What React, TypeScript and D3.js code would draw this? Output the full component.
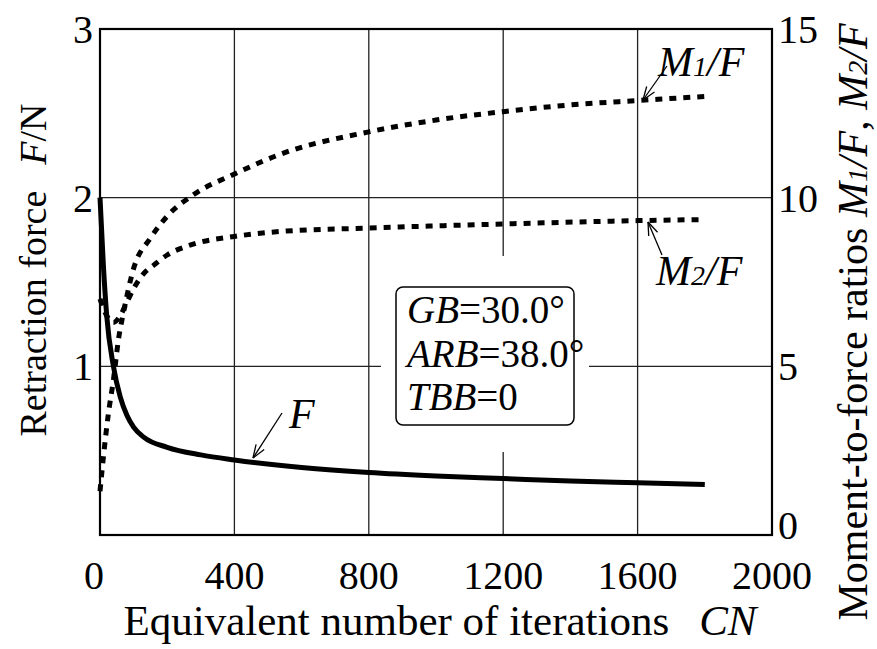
import React from "react";
import * as d3 from "d3";

const xTicks = [0, 400, 800, 1200, 1600, 2000];
const leftTicks = [1, 2, 3];
const rightTicks = [0, 5, 10, 15];

const fCN = [0, 10, 20, 40, 60, 80, 100, 130, 200, 300, 400, 600, 800, 1000, 1200, 1400, 1600, 1800];
const fVal = [2.0, 1.6, 1.3, 1.0, 0.82, 0.71, 0.64, 0.58, 0.52, 0.475, 0.445, 0.4, 0.37, 0.35, 0.335, 0.32, 0.31, 0.3];

const m1CN = [0, 10, 25, 40, 55, 70, 100, 150, 200, 280, 400, 540, 800, 1000, 1200, 1400, 1600, 1800];
const m1Val = [1.3, 2.3, 3.6, 4.6, 5.8, 6.6, 7.9, 8.8, 9.45, 10.1, 10.7, 11.3, 11.95, 12.3, 12.55, 12.75, 12.88, 13.0];

const m2CN = [0, 20, 40, 60, 80, 100, 130, 160, 200, 270, 400, 540, 800, 1200, 1600, 1790];
const m2Val = [7.0, 6.5, 6.3, 6.5, 6.9, 7.3, 7.75, 8.0, 8.3, 8.6, 8.85, 9.0, 9.1, 9.22, 9.32, 9.35];

const FONT = '"Liberation Serif"';

export default function App() {
  const x = d3.scaleLinear().domain([0, 2000]).range([100, 772]);
  const yL = d3.scaleLinear().domain([0, 3]).range([535, 29]);
  const yR = d3.scaleLinear().domain([0, 15]).range([535, 29]);

  const fLine = d3
    .line<number>()
    .x((_, i) => x(fCN[i]))
    .y((d) => yL(d))
    .curve(d3.curveMonotoneX);
  const rLine = (cn: number[]) =>
    d3
      .line<number>()
      .x((_, i) => x(cn[i]))
      .y((d) => yR(d))
      .curve(d3.curveMonotoneX);

  const arrow = (x1: number, y1: number, x2: number, y2: number) => {
    const ang = Math.atan2(y2 - y1, x2 - x1);
    const L = 14;
    const s = 0.35;
    const a1 = ang + Math.PI - s;
    const a2 = ang + Math.PI + s;
    return (
      <g stroke="#000" strokeWidth={1.3} fill="none">
        <line x1={x1} y1={y1} x2={x2} y2={y2} />
        <line x1={x2} y1={y2} x2={x2 + L * Math.cos(a1)} y2={y2 + L * Math.sin(a1)} />
        <line x1={x2} y1={y2} x2={x2 + L * Math.cos(a2)} y2={y2 + L * Math.sin(a2)} />
      </g>
    );
  };

  const ts = { fontFamily: FONT };

  return (
    <svg width={877} height={649} style={{ position: "absolute", left: 0, top: 0, background: "#fff" }}>
      <rect x={0} y={0} width={877} height={649} fill="#fff" />
      {/* grid */}
      <g stroke="#222" strokeWidth={1.3}>
        {xTicks.slice(1, -1).map((t) => (
          <line key={"gx" + t} x1={x(t)} x2={x(t)} y1={yL(3)} y2={yL(0)} />
        ))}
        {leftTicks.slice(0, -1).map((t) => (
          <line key={"gy" + t} x1={x(0)} x2={x(2000)} y1={yL(t)} y2={yL(t)} />
        ))}
      </g>
      {/* white mask around box */}
      <rect x={381} y={256} width={208} height={196} fill="#fff" />
      {/* frame */}
      <rect x={x(0)} y={yL(3)} width={x(2000) - x(0)} height={yL(0) - yL(3)} fill="none" stroke="#000" strokeWidth={2.2} />

      {/* curves */}
      <path d={rLine(m1CN)(m1Val) || ""} fill="none" stroke="#000" strokeWidth={5} strokeDasharray="7 7" />
      <path d={rLine(m2CN)(m2Val) || ""} fill="none" stroke="#000" strokeWidth={5} strokeDasharray="7 7" />
      <path d={fLine(fVal) || ""} fill="none" stroke="#000" strokeWidth={5} strokeLinecap="butt" />

      {/* box */}
      <rect x={396} y={287} width={178} height={138} rx={7} fill="#fff" stroke="#000" strokeWidth={1.5} />
      <text x={407} y={323} fontSize={39} style={ts}>
        <tspan fontStyle="italic">GB</tspan>=30.0°
      </text>
      <text x={407} y={367} fontSize={39} style={ts}>
        <tspan fontStyle="italic">ARB</tspan>=38.0°
      </text>
      <text x={407} y={410} fontSize={39} style={ts}>
        <tspan fontStyle="italic">TBB</tspan>=0
      </text>

      {/* tick labels */}
      {xTicks.map((t) => (
        <text key={"xt" + t} x={x(t) - (t === 0 ? 6 : 0)} y={589} textAnchor="middle" fontSize={40} style={ts}>
          {t}
        </text>
      ))}
      {leftTicks.map((t) => (
        <text key={"lt" + t} x={93} y={yL(t) + 14} textAnchor="end" fontSize={40} style={ts}>
          {t}
        </text>
      ))}
      {rightTicks.map((t) => (
        <text key={"rt" + t} x={778} y={yR(t) + (t === 0 ? 4 : 14)} textAnchor="start" fontSize={40} style={ts}>
          {t}
        </text>
      ))}

      {/* axis titles */}
      <text x={440} y={635} fontSize={43} textAnchor="middle" style={ts}>
        Equivalent number of iterations<tspan dx={30} fontStyle="italic">CN</tspan>
      </text>
      <text transform="translate(46,270) rotate(-90)" fontSize={38} textAnchor="middle" style={ts}>
        Retraction force<tspan dx={26} fontStyle="italic">F</tspan>/N
      </text>
      <text transform="translate(867,322) rotate(-90)" fontSize={42} textAnchor="middle" style={ts}>
        Moment-to-force ratios <tspan fontStyle="italic">M</tspan><tspan fontSize={28} fontStyle="italic">1</tspan><tspan fontStyle="italic">/F</tspan>, <tspan fontStyle="italic">M</tspan><tspan fontSize={28} fontStyle="italic">2</tspan><tspan fontStyle="italic">/F</tspan>
      </text>

      {/* annotations */}
      <text x={658} y={76} fontSize={42} fontStyle="italic" style={ts}>
        M<tspan fontSize={28}>1</tspan>/F
      </text>
      <text x={656} y={285} fontSize={42} fontStyle="italic" style={ts}>
        M<tspan fontSize={28}>2</tspan>/F
      </text>
      <text x={289} y={428} fontSize={42} fontStyle="italic" style={ts}>
        F
      </text>
      {arrow(667, 66, 643, 100)}
      {arrow(662, 255, 648, 222)}
      {arrow(282, 413, 253, 458)}
    </svg>
  );
}
